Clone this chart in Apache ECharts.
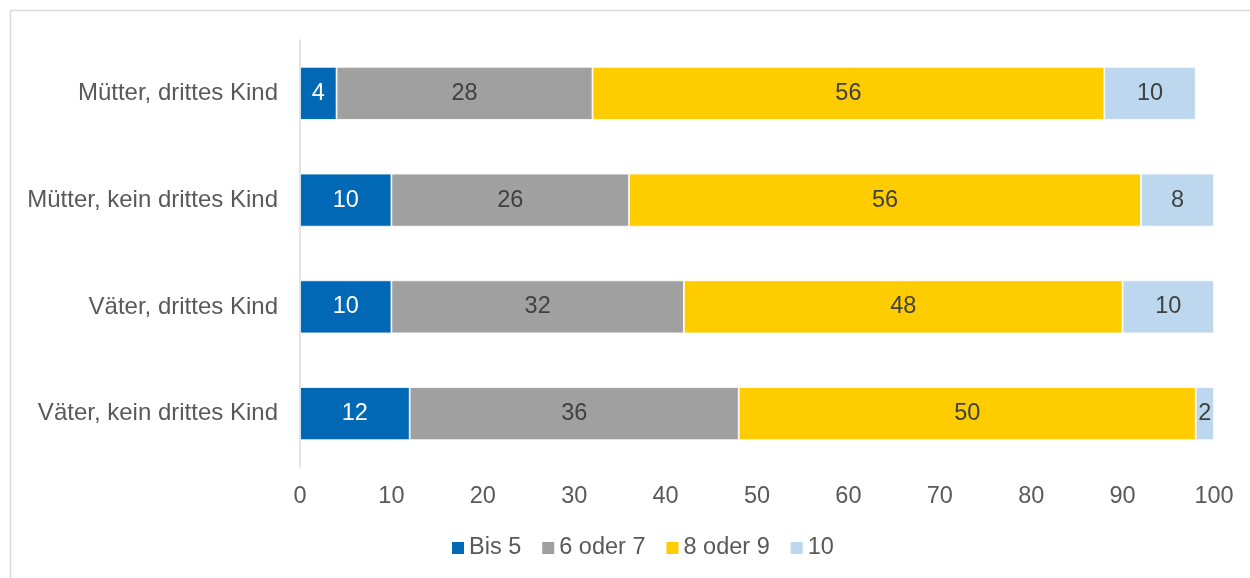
<!DOCTYPE html>
<html>
<head>
<meta charset="utf-8">
<script src="https://cdn.jsdelivr.net/npm/echarts@6/dist/echarts.min.js"></script>
<style>
  html, body { margin: 0; padding: 0; background: #fff; }
  #chart { width: 1250px; height: 578px; }
</style>
</head>
<body>
<div id="chart"></div>
<script>
// Kategorien von oben nach unten
var categories = ['Mütter, drittes Kind', 'Mütter, kein drittes Kind', 'Väter, drittes Kind', 'Väter, kein drittes Kind'];
var seriesNames = ['Bis 5', '6 oder 7', '8 oder 9', '10'];
var bis5 = [4, 10, 10, 12];
var sechsOderSieben = [28, 26, 32, 36];
var achtOderNeun = [56, 56, 48, 50];
var zehn = [10, 8, 10, 2];
var xTicks = [0, 100, 10];

var colors = ['#0068B4', '#A0A0A0', '#FFCC00', '#BDD7EE'];
var labelColors = ['#ffffff', '#404040', '#404040', '#404040'];
var font = '"Liberation Sans", Arial, sans-serif';

var myChart = echarts.init(document.getElementById('chart'));

var values = [bis5, sechsOderSieben, achtOderNeun, zehn];
var series = values.map(function (data, i) {
    return {
        name: seriesNames[i],
        type: 'bar',
        stack: 'total',
        barWidth: 53,
        data: data,
        itemStyle: { color: colors[i], borderColor: '#ffffff', borderWidth: 0.8 },
        label: {
            show: true,
            position: 'inside',
            color: labelColors[i],
            fontSize: 23.5,
            fontFamily: font
        }
    };
});

myChart.setOption({
    animation: false,
    color: colors,
    graphic: [{
        type: 'rect',
        shape: { x: 10.5, y: 10.5, width: 1260, height: 600 },
        style: { fill: 'none', stroke: '#D9D9D9', lineWidth: 1.5 },
        silent: true
    }],
    grid: { left: 300, right: 36, top: 40, bottom: 111 },
    legend: {
        bottom: 13,
        left: 445,
        itemWidth: 14,
        itemHeight: 14,
        itemGap: 19,
        icon: 'rect',
        textStyle: { color: '#595959', fontSize: 23.5, fontFamily: font, padding: [0, 0, 0, -1] },
        data: seriesNames
    },
    xAxis: {
        type: 'value',
        min: xTicks[0],
        max: xTicks[1],
        interval: xTicks[2],
        axisLine: { show: false },
        axisTick: { show: false },
        splitLine: { show: false },
        axisLabel: { color: '#595959', fontSize: 23.5, fontFamily: font, margin: 18 }
    },
    yAxis: {
        type: 'category',
        inverse: true,
        data: categories,
        axisLine: { show: true, lineStyle: { color: '#D9D9D9', width: 1.5 } },
        axisTick: { show: false },
        axisLabel: { color: '#595959', fontSize: 24, fontFamily: font, margin: 22 }
    },
    series: series
});
</script>
</body>
</html>
